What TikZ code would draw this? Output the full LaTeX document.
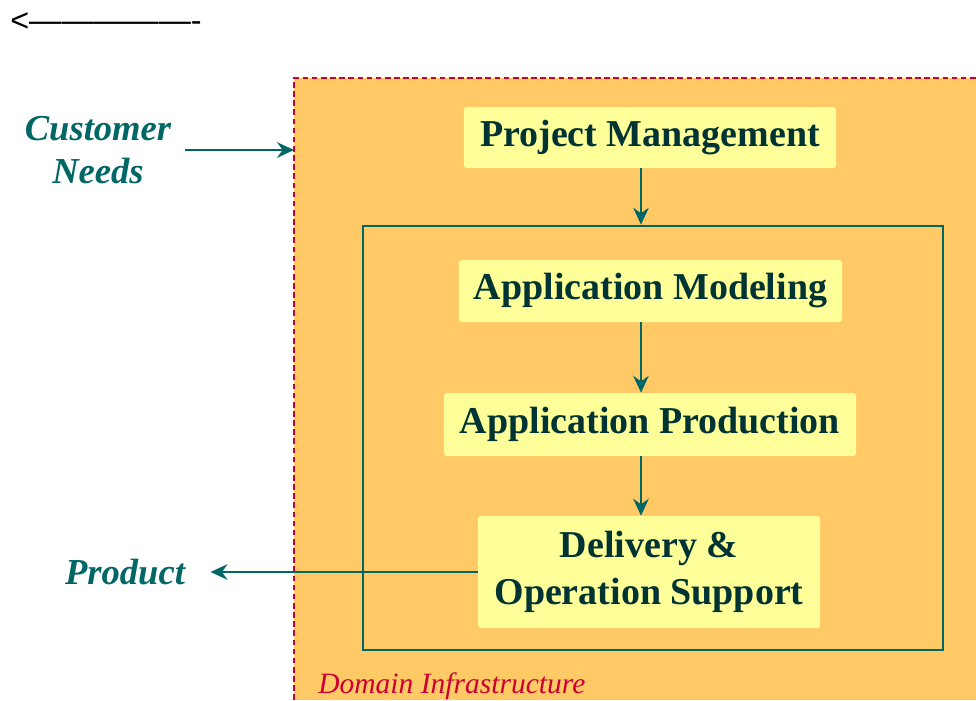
\documentclass[tikz,border=0pt]{standalone}
\usepackage{fontspec}
\setmainfont{Liberation Serif}
\newfontfamily\arialfont{Liberation Sans}
\usetikzlibrary{arrows.meta}

\begin{document}
\begin{tikzpicture}[x=0.025cm, y=-0.025cm]
\definecolor{domainorange}{HTML}{FFC966}
\definecolor{boxyellow}{HTML}{FFFF99}
\definecolor{flowteal}{HTML}{006666}
\definecolor{textteal}{HTML}{003333}
\definecolor{domainred}{HTML}{CC0033}

\tikzset{
  stage/.style={fill=boxyellow, rounded corners=2pt, text=textteal, align=center,
    font=\fontsize{27}{33}\selectfont\bfseries},
  actor/.style={text=flowteal, align=center,
    font=\fontsize{26}{31}\selectfont\bfseries\itshape},
  flow/.style={draw=flowteal, line width=1.8pt, -{Stealth[length=12pt,width=11pt]}}
}

\useasboundingbox (0,0) rectangle (976,700);

% domain area, only its left and top edges are in view
\fill[domainorange] (294,78) rectangle (976,700);
\draw[domainred, line width=1.8pt, dash pattern=on 4pt off 2.5pt] (294,700) -- (294,78) -- (976,78);
\coordinate (dom) at (294,78);
\coordinate (col) at (641,0);

\node[anchor=west, inner sep=0pt, font=\arialfont\fontsize{23}{27}\selectfont] (back) at (10,22) {<—————-};

\node[draw=flowteal, line width=1.8pt, minimum width=14.5cm, minimum height=10.6cm] (app) at (653,438) {};

\node[stage, minimum width=9.3cm, minimum height=1.525cm] (pm) at (650,137.5) {Project Management};
\node[stage, minimum width=9.575cm, minimum height=1.55cm] (am) at (650.5,291) {Application Modeling};
\node[stage, minimum width=10.3cm, minimum height=1.575cm] (ap) at (650,424.5) {Application Production};
\node[stage, minimum width=8.55cm, minimum height=2.8cm] (do) at (649,572) {Delivery \&\\Operation Support};

\node[actor, inner xsep=10pt] (cust) at (98,150) {Customer\\Needs};
\node[actor, inner xsep=18pt] (prod) at (125,572) {Product};
\node[anchor=west, inner sep=0pt, text=domainred, font=\fontsize{21}{25}\selectfont\itshape] (dlabel) at (318,686) {Domain Infrastructure};

\path[flow] (pm.south -| col) -- (app.north -| col);
\path[flow] (am.south -| col) -- (ap.north -| col);
\path[flow] (ap.south -| col) -- (do.north -| col);
\path[flow] (cust.east) -- (cust.east -| dom);
\path[flow] (do.west) -- (do.west -| prod.east);
\end{tikzpicture}
\end{document}
